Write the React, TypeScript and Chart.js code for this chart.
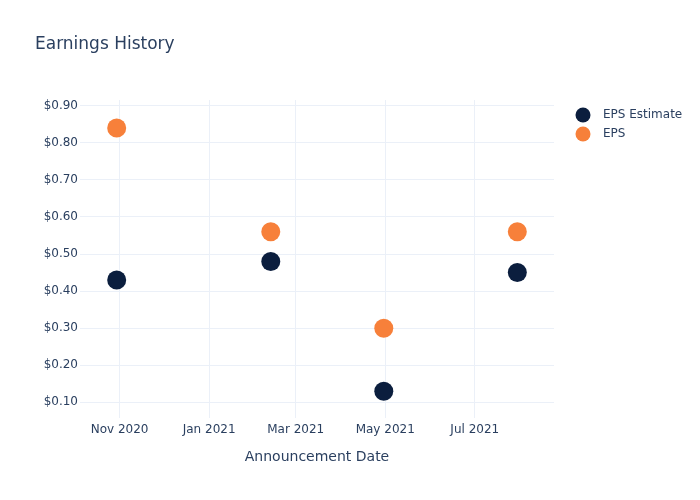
import React, { useEffect, useRef } from "react";
import { Chart, registerables } from "chart.js";

Chart.register(...registerables);

const title = "Earnings History";
const xAxisTitle = "Announcement Date";
const seriesNames = ["EPS Estimate", "EPS"];
const seriesColors = ["#0b1e3e", "#f7803a"];
const announcementDates = ["2020-10-30", "2021-02-12", "2021-04-30", "2021-07-30"];
const epsEstimate = [0.43, 0.48, 0.13, 0.45];
const epsActual = [0.84, 0.56, 0.3, 0.56];
const xTickDates = ["2020-11-01", "2021-01-01", "2021-03-01", "2021-05-01", "2021-07-01"];
const xRange = ["2020-10-05", "2021-08-24"];
const yRange = [0.0577, 0.9154];
const yTicks = [0.1, 0.2, 0.3, 0.4, 0.5, 0.6, 0.7, 0.8, 0.9];

const MONTHS = ["Jan", "Feb", "Mar", "Apr", "May", "Jun", "Jul", "Aug", "Sep", "Oct", "Nov", "Dec"];
const toMs = (s: string) => Date.parse(s + "T00:00:00Z");
const fmtMonth = (ms: number) => {
  const d = new Date(ms);
  return MONTHS[d.getUTCMonth()] + " " + d.getUTCFullYear();
};

const FONT = "'DejaVu Sans', 'Open Sans', sans-serif";
const TEXT = "#2a3f5f";
const GRID = "#ebf0f8";

export default function App() {
  const ref = useRef<HTMLCanvasElement | null>(null);
  useEffect(() => {
    if (!ref.current) return;
    const overlay = {
      id: "overlay",
      afterDraw(chart: any) {
        const ctx = chart.ctx;
        const ca = chart.chartArea;
        ctx.save();
        ctx.fillStyle = TEXT;
        ctx.textBaseline = "middle";
        ctx.font = `17px ${FONT}`;
        ctx.textAlign = "left";
        ctx.fillText(title, 35, 45);
        ctx.font = `14px ${FONT}`;
        ctx.textAlign = "center";
        ctx.fillText(xAxisTitle, (ca.left + ca.right) / 2, 457);
        ctx.font = `12px ${FONT}`;
        ctx.textAlign = "left";
        seriesNames.forEach((n, i) => {
          const y = 115 + i * 19;
          ctx.beginPath();
          ctx.arc(583, y, 7.5, 0, Math.PI * 2);
          ctx.fillStyle = seriesColors[i];
          ctx.fill();
          ctx.fillStyle = TEXT;
          ctx.fillText(n, 603, y);
        });
        ctx.restore();
      },
    };
    const chart = new Chart(ref.current, {
      type: "scatter",
      data: {
        datasets: [
          {
            label: seriesNames[0],
            data: announcementDates.map((d, i) => ({ x: toMs(d), y: epsEstimate[i] })),
            backgroundColor: seriesColors[0],
            borderWidth: 0,
            pointRadius: 9.5,
            pointHoverRadius: 9.5,
          },
          {
            label: seriesNames[1],
            data: announcementDates.map((d, i) => ({ x: toMs(d), y: epsActual[i] })),
            backgroundColor: seriesColors[1],
            borderWidth: 0,
            pointRadius: 9.5,
            pointHoverRadius: 9.5,
          },
        ],
      },
      options: {
        animation: false,
        responsive: false,
        maintainAspectRatio: false,
        layout: { padding: { top: 100, right: 146, left: 0, bottom: 0 } },
        plugins: { legend: { display: false }, title: { display: false }, tooltip: { enabled: false } },
        scales: {
          x: {
            type: "linear",
            min: toMs(xRange[0]),
            max: toMs(xRange[1]),
            afterBuildTicks: (scale: any) => {
              scale.ticks = xTickDates.map((d) => ({ value: toMs(d) }));
            },
            afterFit: (scale: any) => {
              scale.height = 82;
            },
            ticks: {
              callback: (v: any) => fmtMonth(Number(v)),
              color: TEXT,
              font: { family: FONT, size: 12 },
              padding: 5,
              maxRotation: 0,
              autoSkip: false,
            },
            grid: { color: GRID, drawTicks: false, lineWidth: 1 },
            border: { display: false },
          },
          y: {
            type: "linear",
            min: yRange[0],
            max: yRange[1],
            afterBuildTicks: (scale: any) => {
              scale.ticks = yTicks.map((v) => ({ value: v }));
            },
            afterFit: (scale: any) => {
              scale.width = 80;
            },
            ticks: {
              callback: (v: any) => "$" + Number(v).toFixed(2),
              color: TEXT,
              font: { family: FONT, size: 12 },
              padding: 2,
            },
            grid: { color: GRID, drawTicks: false, lineWidth: 1 },
            border: { display: false },
          },
        },
      },
      plugins: [overlay],
    } as any);
    return () => chart.destroy();
  }, []);
  return (
    <div style={{ position: "absolute", left: 0, top: 0, width: 700, height: 500, background: "#fff" }}>
      <canvas ref={ref} width={700} height={500} style={{ width: 700, height: 500 }} />
    </div>
  );
}
